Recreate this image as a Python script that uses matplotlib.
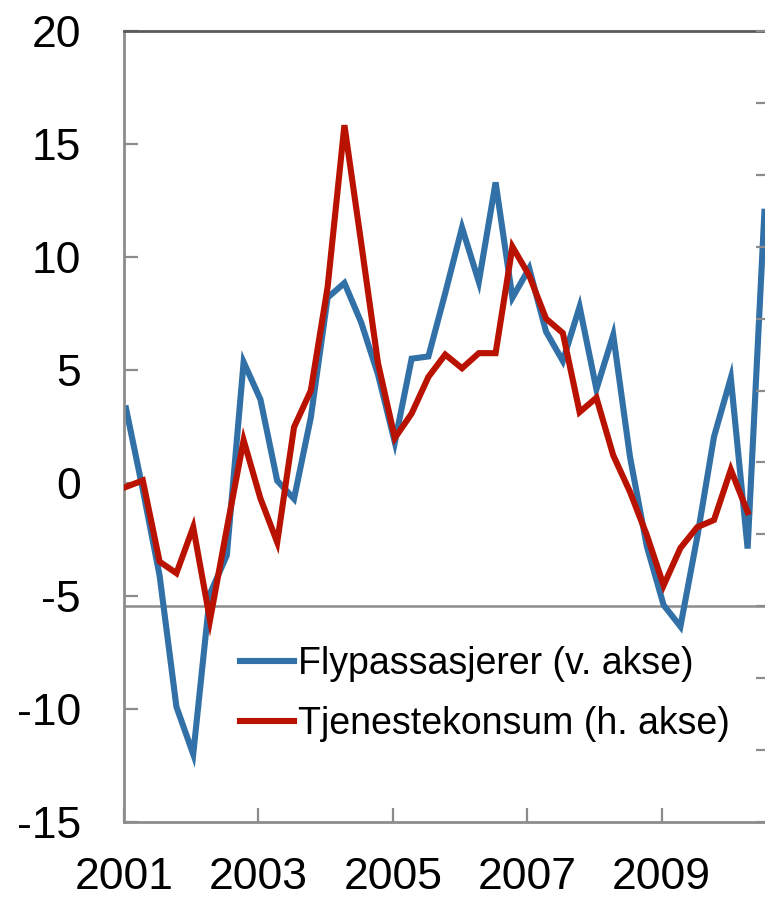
import numpy as np
import matplotlib.pyplot as plt
from matplotlib.transforms import blended_transform_factory

plt.rcParams['font.family'] = ['Liberation Sans', 'DejaVu Sans']

# quarterly data, 2001 Q1 onwards
start_year = 2001
flypassasjerer = [3.3, -0.3, -4.1, -9.9, -12.0, -4.9, -3.2, 5.35, 3.7, 0.1,
                  -0.7, 2.9, 8.2, 8.85, 7.1, 4.8, 1.8, 5.5, 5.6, 8.4,
                  11.3, 8.9, 13.3, 8.2, 9.5, 6.7, 5.4, 7.8, 4.15, 6.55,
                  1.15, -2.8, -5.4, -6.35, -2.4, 2.05, 4.65, -2.9, 12.0]
tjenestekonsum = [1.66, 1.75, 0.62, 0.46, 1.10, -0.19, 1.08, 2.31, 1.5, 0.89,
                  2.49, 3.0, 4.44, 6.69, 5.05, 3.38, 2.34, 2.68, 3.19, 3.5,
                  3.31, 3.52, 3.52, 5.0, 4.6, 4.0, 3.8, 2.7, 2.9, 2.1,
                  1.59, 0.99, 0.29, 0.81, 1.10, 1.2, 1.9, 1.31]

left_ticks = [20, 15, 10, 5, 0, -5, -10, -15]
year_ticks = [2001, 2003, 2005, 2007, 2009]
labels = ['Flypassasjerer (v. akse)', 'Tjenestekonsum (h. akse)']

blue = '#3171A7'
red = '#B91200'
grey = '#8C8C8C'

t_fly = start_year + 0.25 * np.arange(len(flypassasjerer))
t_tj = start_year + 0.25 * np.arange(len(tjenestekonsum))

fig = plt.figure(figsize=(7.65, 9.0), dpi=100)
ax = fig.add_axes([124 / 765, 1 - 822 / 900, 642 / 765, 791 / 900])
ax2 = ax.twinx()

l1, = ax.plot(t_fly + 0.03, flypassasjerer, color=blue, lw=4.4, solid_joinstyle='miter')
l2, = ax2.plot(t_tj + 0.03, tjenestekonsum, color=red, lw=4.4, solid_joinstyle='miter')

# zero line of the right axis, drawn under the lines
tr = blended_transform_factory(ax.transAxes, ax2.transData)
ax.plot([0, 1], [0, 0], transform=tr, color=grey, lw=1.8, zorder=1)

ax.set_xlim(start_year, start_year + 642 / 67.2)
ax.set_ylim(-15, 20)
ax2.set_ylim(-3, 8)

ax.set_yticks(left_ticks)
ax.set_yticklabels([str(v) for v in left_ticks])
ax.set_xticks(year_ticks)
ax.set_xticklabels([str(y) for y in year_ticks])
ax2.set_yticks(np.arange(-3, 9, 1))
ax2.set_yticklabels([])

ax.tick_params(axis='y', direction='in', length=10, width=1.6, color=grey,
               labelsize=32, pad=31)
ax.tick_params(axis='x', direction='in', length=10, width=1.6, color=grey,
               labelsize=32, pad=25)
ax2.tick_params(axis='y', direction='in', length=7, width=1.6, color=grey)

for s in ['left', 'bottom']:
    ax.spines[s].set_color(grey)
    ax.spines[s].set_linewidth(2)
ax.spines['top'].set_color('#5A5A5A')
ax.spines['top'].set_linewidth(2)
ax.spines['right'].set_visible(False)
for s in ['left', 'bottom', 'top']:
    ax2.spines[s].set_visible(False)
ax2.spines['right'].set_color(grey)
ax2.spines['right'].set_linewidth(2)

ax2.legend([l1, l2], labels, loc='upper left', bbox_to_anchor=(0.181, 0.222),
           frameon=False, fontsize=27, handlelength=1.44, handletextpad=0.1,
           labelspacing=0.62, borderpad=0, borderaxespad=0)

fig.savefig('out.png', dpi=100)
